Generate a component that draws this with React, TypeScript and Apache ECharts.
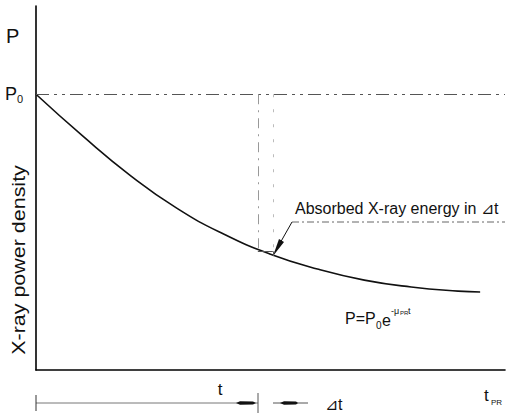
import React, { useEffect, useRef } from "react";
import * as echarts from "echarts";

// Time axis (arbitrary units) and relative power density P/P0
const tValues = [0, 1, 2, 3, 4, 5, 6, 7, 8, 9, 9.47];
const pValues = [1.0, 0.848, 0.707, 0.587, 0.493, 0.42, 0.366, 0.326, 0.301, 0.286, 0.283];
const P0 = 1;
const tMark = 4.73;
const dtMark = 0.32;
const pAtT = 0.43;
const pAtTdt = 0.413;
const xMax = 10;
const yMax = 1.32;

const FONT = "'Liberation Sans', Arial, Helvetica, sans-serif";

export default function App() {
  const ref = useRef<HTMLDivElement>(null);
  useEffect(() => {
    if (!ref.current) return;
    const chart = echarts.init(ref.current, undefined, { renderer: "svg" });
    const txt = (text: string, x: number, y: number, size: number, extra: any = {}) => ({
      type: "text",
      x,
      y,
      silent: true,
      ...extra,
      style: {
        text,
        fontSize: size,
        fontFamily: FONT,
        fill: "#111",
        textAlign: extra.align || "left",
        textVerticalAlign: "middle",
      },
    });
    const seg = (x1: number, y1: number, x2: number, y2: number, stroke = "#111", lineWidth = 1, lineDash?: number[]) => ({
      type: "line",
      silent: true,
      shape: { x1, y1, x2, y2 },
      style: { stroke, lineWidth, lineDash },
    });
    chart.setOption({
      animation: false,
      backgroundColor: "#fff",
      grid: { left: 36, right: 2, top: 6, bottom: 43 },
      xAxis: {
        type: "value",
        min: 0,
        max: xMax,
        axisLine: { show: true, onZero: false, lineStyle: { color: "#000", width: 1.6 } },
        axisTick: { show: false },
        axisLabel: { show: false },
        splitLine: { show: false },
      },
      yAxis: {
        type: "value",
        min: 0,
        max: yMax,
        axisLine: { show: true, onZero: false, lineStyle: { color: "#000", width: 1.6 } },
        axisTick: { show: false },
        axisLabel: { show: false },
        splitLine: { show: false },
      },
      series: [
        {
          type: "line",
          data: tValues.map((t, i) => [t, pValues[i]]),
          smooth: 0.5,
          symbol: "none",
          lineStyle: { color: "#111", width: 1.6 },
          markLine: {
            silent: true,
            symbol: "none",
            label: { show: false },
            data: [
              [
                { coord: [0, P0], lineStyle: { color: "#555", width: 1.2, type: [13, 5, 3, 5, 3, 5] } },
                { coord: [xMax, P0] },
              ],
              [
                { coord: [tMark, P0], lineStyle: { color: "#999", width: 1, type: [10, 6, 2, 6] } },
                { coord: [tMark, pAtT] },
              ],
              [
                { coord: [tMark + dtMark, P0], lineStyle: { color: "#bbb", width: 1, type: [3, 12] } },
                { coord: [tMark + dtMark, pAtTdt] },
              ],
              [
                { coord: [tMark, pAtT], lineStyle: { color: "#555", width: 1, type: "solid" } },
                { coord: [tMark + dtMark, pAtT] },
              ],
              [
                { coord: [tMark + dtMark, pAtT], lineStyle: { color: "#555", width: 1, type: "solid" } },
                { coord: [tMark + dtMark, pAtTdt] },
              ],
            ],
          },
        },
      ],
      graphic: [
        txt("P", 6, 36, 20),
        txt("P", 5, 94, 18),
        txt("0", 17, 99, 11),
        txt("X-ray power density", 18, 260, 19, { rotation: Math.PI / 2, scaleX: 1.13, align: "center" }),
        txt("Absorbed X-ray energy in \u22BFt", 295, 208, 16),
        seg(292, 222, 505, 222, "#666", 1, [7, 3, 2, 3]),
        seg(292, 222, 275, 252, "#111", 1),
        { type: "polygon", silent: true, shape: { points: [[273, 256], [279, 239], [284, 242]] }, style: { fill: "#111" } },
        txt("P=P", 345, 318, 16),
        txt("0", 376, 325, 10),
        txt("e", 382, 320, 16),
        txt("-\u03BC", 391, 311, 9),
        txt("PR", 400, 313, 6),
        txt("t", 408, 311, 9),
        // time span indicators
        seg(36, 403, 258, 403, "#777", 1),
        seg(36, 395, 36, 411, "#333", 1),
        seg(258, 393, 258, 413, "#555", 1),
        { type: "polygon", silent: true, shape: { points: [[236, 403], [240, 401.3], [253, 401.6], [256, 403], [253, 404.4], [240, 404.7]] }, style: { fill: "#111" } },
        seg(273, 403, 308, 403, "#555", 1),
        { type: "polygon", silent: true, shape: { points: [[280, 403], [284, 401.3], [296, 401.6], [298, 403], [296, 404.4], [284, 404.7]] }, style: { fill: "#111" } },
        txt("t", 220, 389, 17, { align: "center" }),
        txt("\u22BFt", 325, 404, 16),
        txt("t", 484, 395, 17),
        txt("PR", 491, 402, 8),
      ],
    });
    return () => chart.dispose();
  }, []);
  return <div ref={ref} style={{ position: "fixed", left: 0, top: 0, width: 507, height: 413 }} />;
}
